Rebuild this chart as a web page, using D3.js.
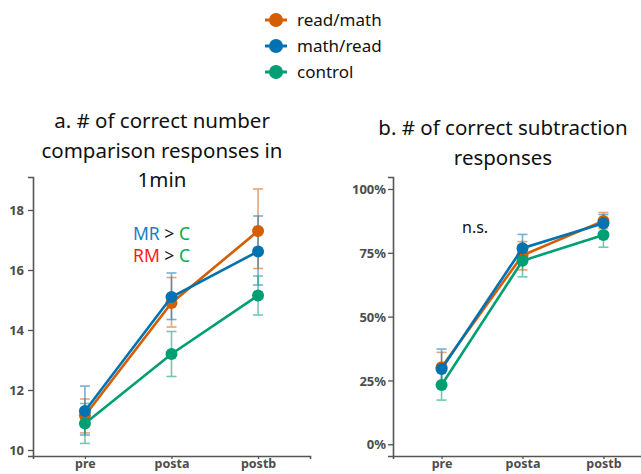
<!DOCTYPE html>
<html>
<head>
<meta charset="utf-8">
<script src="https://cdn.jsdelivr.net/npm/d3@7"></script>
<style>
  body { margin: 0; background: #fff; }
  svg { display: block; font-family: "Noto Sans", sans-serif; }
</style>
</head>
<body>
<script>
// ----- DATA -----
const groups = ["read/math", "math/read", "control"];
const groupColors = ["#D55E00", "#0072B2", "#009E73"];
const times = ["pre", "posta", "postb"];

// a. number comparison (count in 1 min)
const cmpRM = [11.15, 14.9, 17.3];
const cmpRMLo = [10.57, 14.1, 16.05];
const cmpRMHi = [11.7, 15.75, 18.7];
const cmpMR = [11.3, 15.1, 16.62];
const cmpMRLo = [10.5, 14.35, 15.5];
const cmpMRHi = [12.13, 15.9, 17.8];
const cmpC = [10.88, 13.2, 15.15];
const cmpCLo = [10.22, 12.45, 14.5];
const cmpCHi = [11.55, 13.95, 15.8];
const cmpTicks = [10, 12, 14, 16, 18];

// b. subtraction (% correct)
const subRM = [30.2, 74, 87.5];
const subRMLo = [24, 68.3, 84.5];
const subRMHi = [36, 79.4, 90.8];
const subMR = [29.5, 76.8, 86.6];
const subMRLo = [22.5, 71.5, 83];
const subMRHi = [37.3, 82.2, 90];
const subC = [23.2, 71.9, 82];
const subCLo = [17.3, 65.6, 77.2];
const subCHi = [29, 78, 86.5];
const subTicks = [0, 25, 50, 75, 100];

const w = 641, h = 474;

const svg = d3.select("body").append("svg")
  .attr("width", w)
  .attr("height", h);

// ----- LEGEND -----
const legend = svg.append("g").attr("transform", "translate(265,20)");
groups.forEach((g, i) => {
  const row = legend.append("g").attr("transform", "translate(0," + (i * 26) + ")");
  row.append("line")
    .attr("x1", 0).attr("x2", 22)
    .attr("stroke", groupColors[i]).attr("stroke-width", 3);
  row.append("circle")
    .attr("cx", 11).attr("r", 7)
    .attr("fill", groupColors[i]);
  row.append("text")
    .attr("x", 32).attr("y", 6)
    .attr("font-size", "17px")
    .attr("fill", "#111")
    .text(g);
});

// ----- PANEL -----
function drawPanel(p) {
  const x = d3.scalePoint().domain(times).range(p.xRange).padding(0.6);
  const y = d3.scaleLinear().domain(p.yDomain).range([456, 177]);

  const g = svg.append("g");

  // title lines
  p.title.forEach((t, i) => {
    g.append("text")
      .attr("x", p.titleX)
      .attr("y", p.titleY + i * 29.5)
      .attr("text-anchor", "middle")
      .attr("font-size", "20.5px")
      .attr("fill", "#111")
      .text(t);
  });

  // axes
  const yAxis = d3.axisLeft(y).tickValues(p.ticks).tickFormat(p.fmt)
    .tickSize(5).tickPadding(p.tickPad);
  const xAxis = d3.axisBottom(x).tickSize(3).tickPadding(1);

  const ya = g.append("g")
    .attr("transform", "translate(" + p.xRange[0] + ",0)")
    .call(yAxis);
  const xa = g.append("g")
    .attr("transform", "translate(0,456)")
    .call(xAxis);
  [ya, xa].forEach(a => {
    a.select(".domain").attr("stroke", "#555").attr("stroke-width", 1.6);
    a.selectAll(".tick line").attr("stroke", "#555").attr("stroke-width", 1.3);
    a.selectAll(".tick text")
      .attr("fill", "#4d4d4d")
      .attr("font-size", "13px")
      .attr("font-weight", "bold")
      .attr("font-family", "'Noto Sans', sans-serif");
  });
  ya.selectAll(".tick text").attr("dy", "0.36em");
  xa.selectAll(".tick text").attr("dy", "0.62em").attr("font-size", "12.5px");

  const line = d3.line().x((d, i) => x(times[i])).y(d => y(d));

  p.series.forEach((s, k) => {
    const col = groupColors[k];
    // error bars
    const eb = g.append("g").attr("stroke", col).attr("stroke-width", 1.6).attr("opacity", 0.55);
    times.forEach((t, i) => {
      const cx = x(t);
      eb.append("line").attr("x1", cx).attr("x2", cx).attr("y1", y(s.lo[i])).attr("y2", y(s.hi[i]));
      eb.append("line").attr("x1", cx - 5).attr("x2", cx + 5).attr("y1", y(s.lo[i])).attr("y2", y(s.lo[i]));
      eb.append("line").attr("x1", cx - 5).attr("x2", cx + 5).attr("y1", y(s.hi[i])).attr("y2", y(s.hi[i]));
    });
  });
  p.series.forEach((s, k) => {
    const col = groupColors[k];
    g.append("path")
      .datum(s.mean)
      .attr("d", line)
      .attr("fill", "none")
      .attr("stroke", col)
      .attr("stroke-width", 2.6);
    g.selectAll(null)
      .data(s.mean)
      .enter()
      .append("circle")
      .attr("cx", (d, i) => x(times[i]))
      .attr("cy", d => y(d))
      .attr("r", 6)
      .attr("fill", col);
  });
  return g;
}

drawPanel({
  xRange: [33, 310],
  yDomain: [9.8, 19.1],
  ticks: cmpTicks,
  fmt: d3.format("d"),
  tickPad: 4,
  titleX: 162, titleY: 128,
  title: ["a. # of correct number", "comparison responses in", "1min"],
  series: [
    { mean: cmpRM, lo: cmpRMLo, hi: cmpRMHi },
    { mean: cmpMR, lo: cmpMRLo, hi: cmpMRHi },
    { mean: cmpC, lo: cmpCLo, hi: cmpCHi }
  ]
});

drawPanel({
  xRange: [393, 652],
  yDomain: [-4.6, 104.7],
  ticks: subTicks,
  fmt: d => d + "%",
  tickPad: 2,
  titleX: 503, titleY: 135,
  title: ["b. # of correct subtraction", "responses"],
  series: [
    { mean: subRM, lo: subRMLo, hi: subRMHi },
    { mean: subMR, lo: subMRLo, hi: subMRHi },
    { mean: subC, lo: subCLo, hi: subCHi }
  ]
});

// ----- ANNOTATIONS -----
const ann = svg.append("g").attr("font-size", "17.5px");
const mr = ann.append("text").attr("x", 133).attr("y", 240);
mr.append("tspan").attr("fill", "#1a7dc4").text("MR");
mr.append("tspan").attr("fill", "#111").text(" > ");
mr.append("tspan").attr("fill", "#00b050").text("C");
const rm = ann.append("text").attr("x", 133).attr("y", 262);
rm.append("tspan").attr("fill", "#ff1a1a").text("RM");
rm.append("tspan").attr("fill", "#111").text(" > ");
rm.append("tspan").attr("fill", "#00b050").text("C");

svg.append("text")
  .attr("x", 462).attr("y", 233)
  .attr("font-size", "16px")
  .attr("fill", "#111")
  .text("n.s.");
</script>
</body>
</html>
